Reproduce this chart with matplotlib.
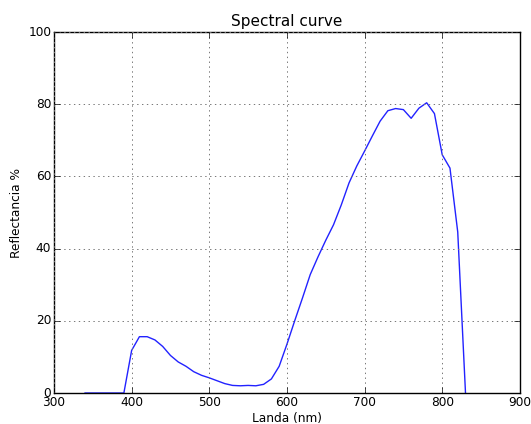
import matplotlib
matplotlib.use("Agg")
import matplotlib.pyplot as plt

wavelength = [340, 350, 360, 370, 380, 390, 400, 410, 420, 430, 440, 450, 460, 470, 480,
              490, 500, 510, 520, 530, 540, 550, 560, 570, 580, 590, 600, 610, 620, 630,
              640, 650, 660, 670, 680, 690, 700, 710, 720, 730, 740, 750, 760, 770, 780,
              790, 800, 810, 820, 830]
reflectance = [0, 0, 0, 0, 0, 0, 11.8, 15.6, 15.6, 14.7, 12.9, 10.4, 8.6, 7.4, 5.9,
               4.9, 4.2, 3.4, 2.6, 2.1, 2.0, 2.1, 2.0, 2.4, 3.9, 7.4, 13.5, 20.0, 26.3, 32.8,
               37.7, 42.3, 46.6, 52.1, 58.2, 62.9, 67.0, 71.2, 75.3, 78.2, 78.8, 78.5, 76.1, 78.9, 80.4,
               77.4, 66.0, 62.3, 44.6, 0]

xticks = [300, 400, 500, 600, 700, 800, 900]
yticks = [0, 20, 40, 60, 80, 100]

plt.style.use('classic')
fig = plt.figure(figsize=(5.31, 4.24), dpi=100, facecolor='white')
ax = fig.add_axes([0.1017, 0.0731, 0.8773, 0.8514])
ax.plot(wavelength, reflectance, color='#2222ff', linewidth=1)
ax.set_xlim(300, 900)
ax.set_ylim(0, 100)
ax.set_xticks(xticks)
ax.set_yticks(yticks)
ax.tick_params(labelsize=8.7, pad=2, length=4)
ax.grid(True, color='#777777', linestyle=(0, (1, 2.5)), linewidth=0.7)
ax.set_title('Spectral curve', fontsize=11, pad=4)
ax.set_xlabel('Landa (nm)', fontsize=8.7, labelpad=2)
ax.set_ylabel('Reflectancia %', fontsize=8.7, labelpad=4)
fig.savefig('out.png', dpi=100, facecolor='white')
